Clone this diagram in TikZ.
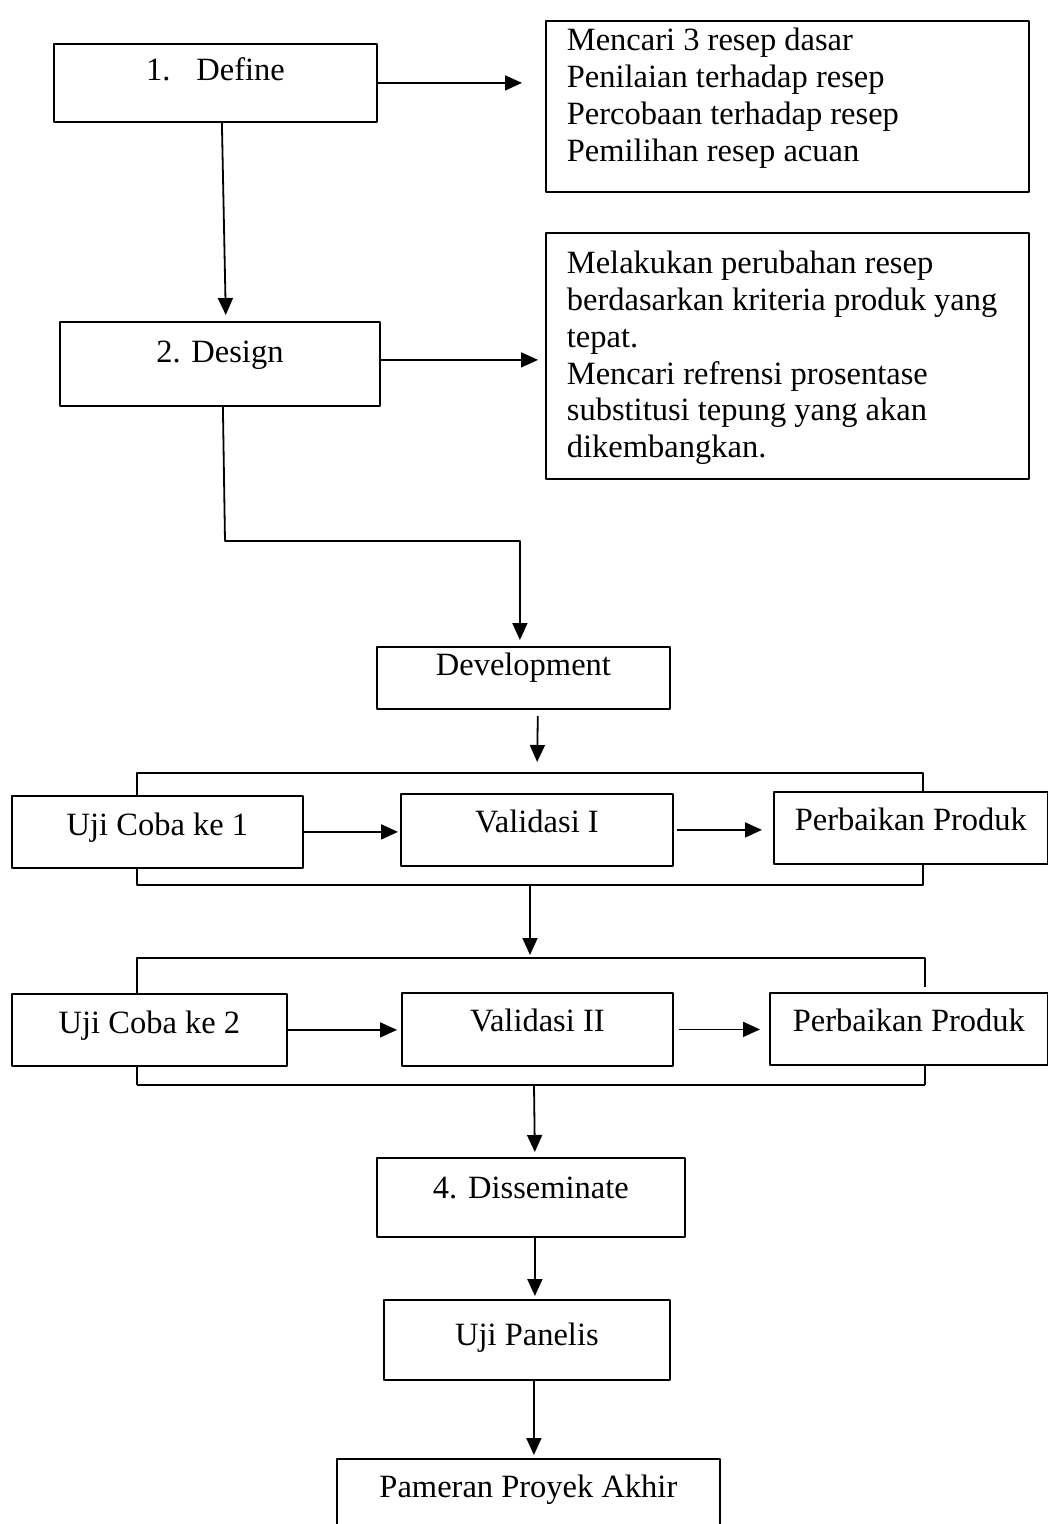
\documentclass[tikz,border=0pt]{standalone}
\usepackage{fontspec}
\setmainfont{Liberation Serif}
\usetikzlibrary{arrows.meta}
\begin{document}
\begin{tikzpicture}[x=1pt,y=-1pt,line width=1.8pt,line join=round,font=\fontsize{32.5}{36.7}\selectfont,>={Triangle[length=17pt,width=15pt]},
	box/.style n args={3}{draw,anchor=north west,inner sep=0pt,minimum width=#1,text height=#2,text depth=#3},
	note/.style 2 args={draw,anchor=north west,inner xsep=21pt,inner ysep=0pt,text width=441pt,align=flush left,text height=#1,text depth=#2}]
	\useasboundingbox (0,0) rectangle (1048,1524);
	\node[box={323pt}{37pt}{41pt}] (define) at (53,43) {1.\hspace{26pt}Define};
	\node[note={30pt}{141pt}] (resep) at (545,20) {Mencari 3 resep dasar\\Penilaian terhadap resep\\Percobaan terhadap resep\\Pemilihan resep acuan};
	\node[box={320pt}{41pt}{43pt}] (design) at (59,321) {2. Design};
	\node[note={41pt}{205pt}] (ubah) at (545,232) {Melakukan perubahan resep\\berdasarkan kriteria produk yang\\tepat.\\Mencari refrensi prosentase\\substitusi tepung yang akan\\dikembangkan.};
	\node[box={293pt}{29pt}{33pt}] (dev) at (376,646) {Development};
	\node[box={291pt}{40pt}{32pt}] (uji1) at (11,795) {Uji Coba ke 1};
	\node[box={272pt}{39pt}{33pt}] (val1) at (400,793) {Validasi I};
	\node[box={274pt}{39pt}{33pt}] (pp1) at (773,791) {Perbaikan Produk};
	\node[box={275pt}{40pt}{32pt}] (uji2) at (11,993) {Uji Coba ke 2};
	\node[box={271pt}{39pt}{34pt}] (val2) at (401,992) {Validasi II};
	\node[box={278pt}{39pt}{33pt}] (pp2) at (769,992) {Perbaikan Produk};
	\node[box={308pt}{41pt}{38pt}] (dis) at (376,1157) {4. Disseminate};
	\node[box={286pt}{46pt}{34pt}] (panel) at (383,1299) {Uji Panelis};
	\node[box={383pt}{39pt}{41pt}] (pam) at (336,1458) {Pameran Proyek Akhir};
	\coordinate (bend) at (225,541);
	\coordinate (t1l) at (137,773); \coordinate (t1r) at (923,773); \coordinate (t1m) at (537,773);
	\coordinate (b1l) at (137,885); \coordinate (b1r) at (923,885); \coordinate (b1m) at (530,885);
	\coordinate (t2l) at (137,958); \coordinate (t2r) at (925,958); \coordinate (t2m) at (530,958);
	\coordinate (b2l) at (137,1085); \coordinate (b2r) at (925,1085); \coordinate (b2m) at (534,1085);
	\draw[->,shorten >=23pt] (define.east) -- (define.east -| resep.west);
	\draw[->,shorten >=6pt] ([xshift=6.5pt]define.south) -- ([xshift=6pt]design.north);
	\draw[->,shorten >=7pt] ([yshift=4pt]design.east) -- ([yshift=4pt]design.east -| ubah.west);
	\draw[->,shorten >=6pt] ([xshift=3pt]design.south) -- (bend) -| ([xshift=-3.5pt]dev.north);
	\draw[->,shorten <=6pt,shorten >=11pt] ([xshift=14.5pt]dev.south) -- (t1m);
	\draw (t1l |- uji1.north) -- (t1l) -- (t1r) -- (t1r |- pp1.north);
	\draw[->,shorten >=2pt] (uji1.east) -- (uji1.east -| val1.west);
	\draw[->,shorten <=3pt,shorten >=11pt] (val1.east) -- (val1.east -| pp1.west);
	\draw (b1l |- uji1.south) -- (b1l) -- (b1r) -- (b1r |- pp1.south);
	\draw[->,shorten >=3pt] (b1m) -- (t2m);
	\draw (t2l |- uji2.north) -- (t2l) -- (t2r) -- ([yshift=5pt]t2r |- pp2.north);
	\draw[->,shorten >=4pt] (uji2.east) -- (uji2.east -| val2.west);
	\draw[->,shorten <=5pt,shorten >=9pt] (val2.east) -- (val2.east -| pp2.west);
	\draw (b2l |- uji2.south) -- (b2l) (b2r) -- (b2r |- pp2.south);
	\draw[line width=2.8pt] (b2l) -- (b2r);
	\draw[->,shorten >=5pt] (b2m) -- ([xshift=4pt]dis.north);
	\draw[->,shorten >=3pt] ([xshift=4pt]dis.south) -- ([xshift=8pt]panel.north);
	\draw[->,shorten >=3pt] ([xshift=7pt]panel.south) -- ([xshift=5.5pt]pam.north);
\end{tikzpicture}
\end{document}
